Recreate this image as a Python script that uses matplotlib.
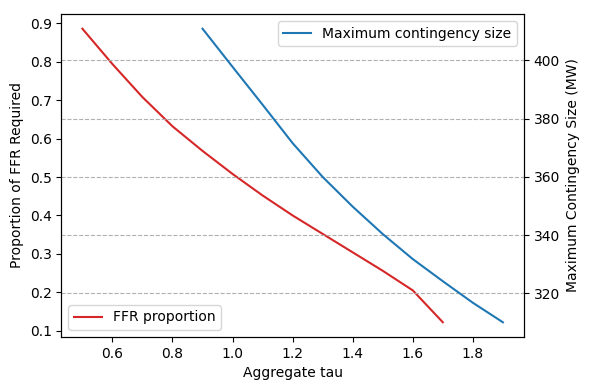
import matplotlib
matplotlib.use("Agg")
from matplotlib import pyplot as plt

# FFR proportion vs aggregate tau
tau_ffr = [0.5, 0.6, 0.7, 0.8, 0.9, 1.0, 1.1, 1.2, 1.3, 1.4, 1.5, 1.6, 1.7]
ffr_prop = [0.886, 0.794, 0.708, 0.632, 0.568, 0.508, 0.452, 0.400, 0.352, 0.304, 0.256, 0.205, 0.122]

# Maximum contingency size vs aggregate tau
tau_mc = [0.9, 1.0, 1.1, 1.2, 1.3, 1.4, 1.5, 1.6, 1.7, 1.8, 1.9]
mc_size = [410.9, 397.8, 384.8, 371.6, 360.0, 349.8, 340.4, 331.8, 324.2, 316.8, 310.1]

fig, ax1 = plt.subplots(figsize=(5.9, 3.9), dpi=100)
ax2 = ax1.twinx()

ax1.plot(tau_ffr, ffr_prop, color="tab:red", label="FFR proportion")
ax2.plot(tau_mc, mc_size, color="tab:blue", label="Maximum contingency size")

ax1.set_xlabel("Aggregate tau")
ax1.set_ylabel("Proportion of FFR Required")
ax2.set_ylabel("Maximum Contingency Size (MW)")

ax2.grid(True, axis="y", linestyle="--")
ax1.legend(loc="lower left")
ax2.legend(loc="upper right")

fig.subplots_adjust(left=0.104, right=0.888, top=0.964, bottom=0.136)
plt.savefig("out.png", dpi=100)
